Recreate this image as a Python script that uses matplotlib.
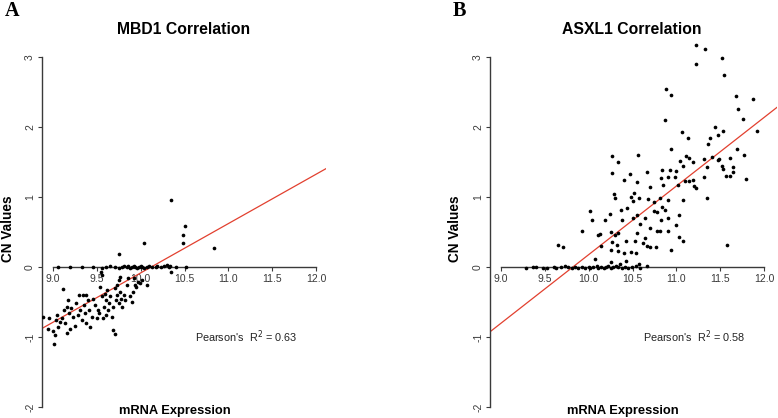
import numpy as np
import matplotlib
matplotlib.use("Agg")
import matplotlib.pyplot as plt

plt.rcParams['font.family'] = ['Liberation Sans', 'DejaVu Sans']

# ---- panel A: MBD1 (mRNA expression vs copy number) ----
mbd1_zero_x = [9.06, 9.19, 9.33, 9.46, 9.56, 9.61, 9.65, 9.71, 9.75, 9.79, 9.81, 9.84,
               9.86, 9.88, 9.90, 9.92, 9.94, 9.96, 9.98, 10.00, 10.02, 10.04, 10.07,
               10.09, 10.13, 10.17, 10.19, 10.23, 10.27, 10.30, 10.32, 10.34, 10.40, 10.52]
mbd1_zero_y = [0.0, 0.0, 0.0, 0.0, -0.01, 0.0, 0.01, 0.0, -0.01, 0.0, 0.02, 0.0,
               0.01, -0.01, 0.0, 0.01, 0.0, -0.01, 0.0, 0.01, 0.0, -0.01, 0.0,
               0.01, 0.0, 0.0, 0.01, 0.0, 0.02, 0.03, 0.0, 0.01, 0.0, 0.0]
mbd1_x = [9.55, 9.56, 10.35, 9.75, 10.04, 10.48, 10.48, 10.51, 10.84, 10.35,
          8.89, 8.94, 8.96, 9.00, 9.01, 9.02, 9.03, 9.05, 9.06, 9.08, 9.10, 9.11,
          9.13, 9.14, 9.16, 9.16, 9.17, 9.18, 9.19, 9.21, 9.23, 9.25, 9.26, 9.28,
          9.30, 9.31, 9.33, 9.34, 9.35, 9.37, 9.38, 9.38, 9.40, 9.41, 9.42, 9.44,
          9.46, 9.48, 9.50, 9.51, 9.53, 9.54, 9.56, 9.57, 9.58, 9.59, 9.60, 9.61,
          9.62, 9.63, 9.64, 9.65, 9.67, 9.68, 9.69, 9.71, 9.71, 9.72, 9.73, 9.73,
          9.75, 9.75, 9.76, 9.77, 9.78, 9.79, 9.81, 9.82, 9.84, 9.86, 9.88, 9.90,
          9.91, 9.94, 9.95, 9.97, 9.99, 10.07, 10.01, 9.92]
mbd1_y = [-0.07, -0.11, -0.07, 0.18, 0.35, 0.35, 0.46, 0.58, 0.27, 0.96,
          -0.71, -0.88, -0.73, -0.92, -1.10, -0.97, -0.76, -0.69, -0.85, -0.78, -0.73, -0.32,
          -0.61, -0.80, -0.57, -0.94, -0.47, -0.66, -0.88, -0.59, -0.71, -0.84, -0.52, -0.69,
          -0.40, -0.61, -0.76, -0.40, -0.54, -0.66, -0.40, -0.80, -0.47, -0.61, -0.85, -0.71,
          -0.45, -0.54, -0.73, -0.61, -0.66, -0.28, -0.42, -0.73, -0.57, -0.39, -0.69, -0.47,
          -0.33, -0.61, -0.52, -0.42, -0.71, -0.57, -0.90, -0.30, -0.95, -0.47, -0.26, -0.40,
          -0.19, -0.52, -0.14, -0.35, -0.45, -0.57, -0.40, -0.47, -0.26, -0.16, -0.42, -0.50,
          -0.35, -0.26, -0.28, -0.21, -0.23, -0.26, -0.19, -0.16]

# ---- panel B: ASXL1 ----
asxl1_zero_x = [9.29, 9.36, 9.40, 9.48, 9.52, 9.60, 9.63, 9.68, 9.73, 9.77, 9.81, 9.84,
                9.88, 9.92, 9.96, 10.00, 10.02, 10.05, 10.09, 10.11, 10.14, 10.17, 10.20,
                10.22, 10.25, 10.28, 10.31, 10.34, 10.38, 10.41, 10.45, 10.49, 10.54,
                10.59, 10.67]
asxl1_zero_y = [-0.01, 0.0, 0.0, -0.02, -0.01, 0.0, -0.01, 0.0, 0.01, 0.0, -0.01, 0.0,
                -0.02, 0.0, -0.01, 0.0, -0.02, 0.0, 0.01, -0.01, 0.0, -0.02, 0.0,
                0.01, -0.01, 0.0, 0.02, 0.0, -0.01, 0.0, -0.02, 0.0, 0.01,
                -0.01, 0.01]
asxl1_x = [11.22, 11.33, 11.22, 11.52, 11.54, 10.88, 10.94, 11.68, 11.87, 11.70,
           10.87, 11.76, 11.92, 11.06, 11.44, 11.13, 11.38, 11.47, 11.53, 11.36,
           10.94, 11.69, 10.27, 10.56, 11.11, 11.14, 11.32, 11.41, 11.49, 11.77,
           10.34, 11.04, 11.19, 11.61, 11.52, 11.47, 11.65, 11.53, 11.08, 11.35,
           10.27, 10.47, 10.67, 10.84, 10.93, 11.00, 11.57, 11.61, 11.65, 11.79,
           10.40, 10.55, 10.83, 10.90, 10.98, 11.10, 11.14, 11.19, 11.20, 11.31,
           11.22, 11.02, 10.70, 10.85, 10.29, 10.30, 10.52, 10.48, 10.57, 10.51,
           10.68, 10.81, 10.91, 11.08, 11.35, 10.74,
           10.01, 10.04, 10.19, 10.24, 10.37, 10.44, 10.38, 10.50, 10.55, 10.59,
           10.64, 10.70, 10.75, 10.78, 10.82, 10.84, 10.87, 10.91, 11.03, 11.00,
           9.92, 10.11, 10.13, 10.26, 10.30, 10.33, 10.43, 10.55, 10.53, 10.64,
           10.78, 10.81, 10.90, 11.03, 11.08, 9.65, 9.71, 10.14, 10.27, 10.32,
           10.40, 10.34, 10.26, 10.48, 10.54, 10.62, 10.66, 10.70, 10.77, 10.94,
           11.58, 10.07, 10.26, 10.43, 10.36, 10.57]
asxl1_y = [3.17, 3.12, 2.90, 2.98, 2.75, 2.54, 2.46, 2.45, 2.40, 2.26,
           2.10, 2.11, 1.94, 1.93, 2.00, 1.85, 1.85, 1.89, 1.95, 1.76,
           1.68, 1.69, 1.59, 1.60, 1.58, 1.56, 1.55, 1.57, 1.55, 1.60,
           1.50, 1.51, 1.50, 1.56, 1.44, 1.53, 1.43, 1.40, 1.44, 1.43,
           1.35, 1.33, 1.36, 1.39, 1.39, 1.37, 1.30, 1.30, 1.36, 1.26,
           1.25, 1.22, 1.27, 1.28, 1.29, 1.23, 1.23, 1.25, 1.16, 1.28,
           1.13, 1.17, 1.15, 1.17, 1.05, 0.98, 1.06, 1.00, 0.99, 0.94,
           0.97, 0.98, 0.96, 0.96, 0.99, 0.93,
           0.80, 0.67, 0.67, 0.76, 0.81, 0.84, 0.67, 0.70, 0.75, 0.62,
           0.70, 0.56, 0.80, 0.78, 0.67, 0.86, 0.81, 0.70, 0.74, 0.60,
           0.52, 0.46, 0.47, 0.50, 0.46, 0.48, 0.37, 0.49, 0.37, 0.42,
           0.52, 0.51, 0.52, 0.43, 0.37, 0.31, 0.28, 0.30, 0.36, 0.32,
           0.20, 0.23, 0.24, 0.22, 0.20, 0.35, 0.30, 0.29, 0.29, 0.25,
           0.31, 0.12, 0.07, 0.08, 0.04, 0.05]

# fitted lines (slope, x where it crosses 0)
fit_slope = [0.705, 0.98]
fit_zero = [10.12, 9.82]
r2_text = ["Pearson's  R$^2$ = 0.63", "Pearson's  R$^2$ = 0.58"]
titles = ["MBD1 Correlation", "ASXL1 Correlation"]
panel_letters = ["A", "B"]
x_ticks = [9.0, 9.5, 10.0, 10.5, 11.0, 11.5, 12.0]
y_ticks = [-2, -1, 0, 1, 2, 3]

fig = plt.figure(figsize=(7.78, 4.18), dpi=100)
axA = fig.add_axes([0.05398, 0.00957, 0.3647, 0.9043])
axB = fig.add_axes([0.6298, 0.00957, 0.3692, 0.9043])
axes = [axA, axB]
xlims = [(8.875, 12.11), (8.875, 12.15)]
data = [(mbd1_zero_x + mbd1_x, mbd1_zero_y + mbd1_y),
        (asxl1_zero_x + asxl1_x, asxl1_zero_y + asxl1_y)]

axis_col = '#3a3a3a'
for i, ax in enumerate(axes):
    xs, ys = data[i]
    ax.set_xlim(*xlims[i])
    ax.set_ylim(-2.1, 3.3)
    ax.axline((fit_zero[i], 0), slope=fit_slope[i], color='#e2402f', lw=0.9, zorder=2)
    ax.scatter(xs, ys, s=7, c='black', linewidths=0, zorder=3)

    for s in ['top', 'right']:
        ax.spines[s].set_visible(False)
    ax.spines['left'].set_bounds(-2, 3)
    ax.spines['bottom'].set_position(('data', 0))
    ax.spines['bottom'].set_bounds(9, 12)
    for s in ['left', 'bottom']:
        ax.spines[s].set_color(axis_col)
        ax.spines[s].set_linewidth(1.0)
    ax.set_xticks(x_ticks)
    ax.set_xticklabels(["%.1f" % v for v in x_ticks])
    ax.set_yticks(y_ticks)
    ax.set_yticklabels([str(v) for v in y_ticks], rotation=90, va='center')
    ax.tick_params(axis='both', colors=axis_col, labelsize=7.5, length=3, width=0.8, pad=2)
    ax.patch.set_alpha(0)

    ax.text(10.62, -1.0, r2_text[i], fontsize=7.8, color='#222222', va='center', ha='left')

fig.text(0.2365, 0.93, titles[0], fontsize=11.3, fontweight='bold', ha='center', va='center')
fig.text(0.812, 0.93, titles[1], fontsize=11.3, fontweight='bold', ha='center', va='center')
fig.text(0.225, 0.017, "mRNA Expression", fontsize=9.3, fontweight='bold', ha='center', va='center')
fig.text(0.801, 0.017, "mRNA Expression", fontsize=9.3, fontweight='bold', ha='center', va='center')
fig.text(0.0105, 0.452, "CN Values", fontsize=9.8, fontweight='bold', rotation=90, ha='center', va='center')
fig.text(0.585, 0.452, "CN Values", fontsize=9.8, fontweight='bold', rotation=90, ha='center', va='center')
fig.text(0.006, 0.997, panel_letters[0], fontsize=14.5, fontweight='bold', family='Liberation Serif', ha='left', va='top')
fig.text(0.582, 0.997, panel_letters[1], fontsize=14.5, fontweight='bold', family='Liberation Serif', ha='left', va='top')

fig.savefig("out.png", dpi=100)
